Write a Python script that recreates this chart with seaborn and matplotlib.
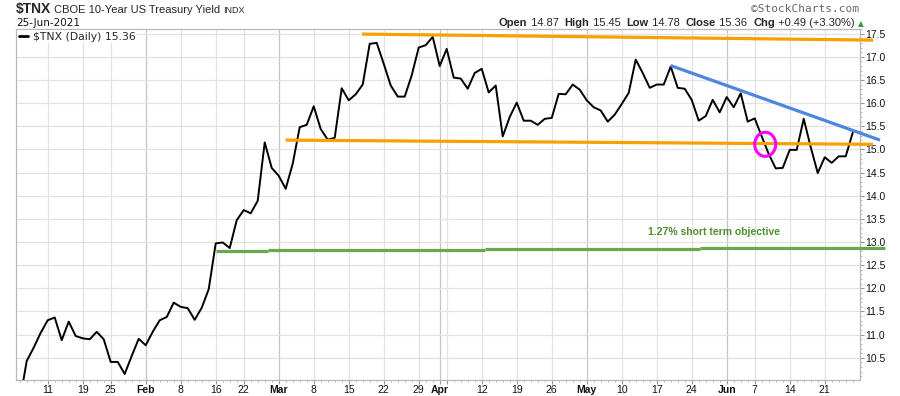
import numpy as np
import pandas as pd
import matplotlib
matplotlib.use("Agg")
import matplotlib.pyplot as plt
import seaborn as sns
from matplotlib.patches import Ellipse

# ---------------- data ----------------
holidays = ["2021-01-18", "2021-02-15", "2021-04-02", "2021-05-31"]
dates = pd.bdate_range("2021-01-04", "2021-06-25", freq="C", holidays=holidays)

tnx = [9.17, 9.55,
       10.43, 10.72, 11.04, 11.31, 11.37, 10.88, 11.28, 10.97,
       10.92, 10.90, 11.06, 10.90, 10.41, 10.41, 10.15, 10.54, 10.91, 10.77,
       11.06, 11.31, 11.38, 11.69, 11.60, 11.57, 11.32, 11.58, 11.98, 12.97,
       12.99, 12.87, 13.47, 13.69, 13.62, 13.89, 15.15, 14.60, 14.43, 14.15,
       14.69, 15.48, 15.53, 15.93, 15.44, 15.21, 15.25, 16.32, 16.06, 16.19,
       16.40, 17.28, 17.30, 16.85, 16.38, 16.14, 16.14, 16.60, 17.20, 17.25,
       17.43, 16.80, 17.17, 16.55, 16.53, 16.31, 16.65, 16.74, 16.23, 16.38,
       15.28, 15.70, 16.01, 15.62, 15.62, 15.53, 15.66, 15.68, 16.20, 16.19,
       16.40, 16.29, 16.06, 15.91, 15.84, 15.60, 15.75, 15.98, 16.22, 16.94,
       16.65, 16.33, 16.40, 16.40, 16.79, 16.33, 16.31, 16.07, 15.62, 15.72,
       16.07, 15.80, 16.13, 15.91, 16.21, 15.60, 15.67, 15.28, 14.90, 14.59,
       14.60, 14.99, 14.99, 15.66, 15.05, 14.49, 14.83, 14.71, 14.85, 14.85,
       15.36]

tick_dates = ["2021-01-11", "2021-01-19", "2021-01-25", "2021-02-01", "2021-02-08",
              "2021-02-16", "2021-02-22", "2021-03-01", "2021-03-08", "2021-03-15",
              "2021-03-22", "2021-03-29", "2021-04-01", "2021-04-05", "2021-04-12",
              "2021-04-19", "2021-04-26", "2021-05-03", "2021-05-10", "2021-05-17",
              "2021-05-24", "2021-06-01", "2021-06-07", "2021-06-14", "2021-06-21"]
tick_labels = ["11", "19", "25", "Feb", "8", "16", "22", "Mar", "8", "15", "22", "29",
               "Apr", "", "12", "19", "26", "May", "10", "17", "24", "Jun", "7", "14", "21"]
month_labels = {"Feb", "Mar", "Apr", "May", "Jun"}

yticks = [10.5, 11.0, 11.5, 12.0, 12.5, 13.0, 13.5, 14.0, 14.5, 15.0, 15.5, 16.0, 16.5, 17.0, 17.5]

# annotation lines: (start index, start value, end index, end value)
upper_orange = (49.9, 17.49, 122.9, 17.36)
lower_orange = (39.0, 15.20, 122.9, 15.11)
blue_trend = (94.0, 16.81, 123.9, 15.20)
green_segments = [(29.0, 36.5, 12.80), (36.5, 67.5, 12.82), (67.5, 98.2, 12.84), (98.2, 124.6, 12.86)]
circle_center = (107.5, 15.11)
objective_label_pos = (100.2, 13.21)

# ---------------- figure ----------------
sns.set_style("white")
plt.rcParams["font.family"] = ["Liberation Sans", "DejaVu Sans"]

W, H = 900, 396
fig = plt.figure(figsize=(W / 100, H / 100), dpi=100)
ax = fig.add_axes([16 / W, 1 - 380 / H, 844 / W, 351 / H])

idx = np.arange(len(dates))
df = pd.DataFrame({"i": idx, "v": tnx})

pos = {d: k for k, d in enumerate(dates.strftime("%Y-%m-%d"))}
tick_pos = [pos[d] for d in tick_dates]

# grid
for p, lab in zip(tick_pos, tick_labels):
    c = "#c4c4c4" if lab in month_labels else "#e2e2e2"
    ax.axvline(p, color=c, lw=0.9, zorder=0)
for yv in yticks:
    ax.axhline(yv, color="#e2e2e2", lw=0.9, zorder=0)

sns.lineplot(data=df, x="i", y="v", ax=ax, color="black", lw=1.4, zorder=3,
             label="$TNX (Daily) 15.36")

orange = "#f7a000"
for (x0, y0, x1, y1) in (upper_orange, lower_orange):
    ax.plot([x0, x1], [y0, y1], color=orange, lw=2.3, clip_on=False, zorder=4,
            solid_capstyle="butt")
x0, y0, x1, y1 = blue_trend
ax.plot([x0, x1], [y0, y1], color="#4d86e0", lw=2.3, clip_on=False, zorder=4,
        solid_capstyle="butt")
for (x0, x1, yv) in green_segments:
    ax.plot([x0, x1], [yv, yv], color="#6aa84f", lw=2.3, clip_on=False, zorder=4,
            solid_capstyle="butt")
ax.add_patch(Ellipse(circle_center, width=3.0, height=0.52, fill=False,
                     edgecolor="#ff00ff", lw=2.2, zorder=5))
ax.text(*objective_label_pos, "1.27% short term objective", color="#4f8f2f", fontsize=7.5,
        fontweight="bold", ha="center", va="center", zorder=5)

ax.set_xlim(0.47, 121.04)
ax.set_ylim(10.02, 17.6)
ax.set_xlabel("")
ax.set_ylabel("")

# axes styling
for s in ax.spines.values():
    s.set_color("#b8b8b8")
    s.set_linewidth(0.9)
ax.yaxis.tick_right()
ax.set_yticks(yticks)
ax.set_yticklabels([f"{v:.1f}" for v in yticks])
ax.set_yticks(np.arange(10.1, 17.6, 0.1), minor=True)
ax.set_xticks(tick_pos)
ax.set_xticklabels(tick_labels)
ax.set_xticks(idx[idx >= 1], minor=True)
for lab in ax.get_xticklabels():
    if lab.get_text() in month_labels:
        lab.set_fontweight("bold")
ax.tick_params(axis="both", which="major", labelsize=7.5, colors="#999999",
               labelcolor="#111111", length=3, width=0.8)
ax.tick_params(axis="x", which="major", pad=0.5)
ax.tick_params(axis="y", which="major", pad=1)
ax.tick_params(axis="both", which="minor", colors="#aaaaaa", length=1.5, width=0.6)
ax.tick_params(axis="x", which="both", bottom=True, top=False)
ax.tick_params(axis="y", which="both", right=True, left=False)

leg = ax.legend(loc="upper left", bbox_to_anchor=(0.0, 1.0),
                handlelength=0.9, handletextpad=0.4, borderpad=0.15, borderaxespad=0.1,
                frameon=True, fancybox=False, framealpha=1.0,
                prop={"family": "DejaVu Sans", "size": 7.8})
leg.get_frame().set_edgecolor("none")
leg.get_frame().set_facecolor("white")
for line in leg.get_lines():
    line.set_linewidth(2.0)

# ---------------- header ----------------
renderer = fig.canvas.get_renderer()


def seq(x, y, pieces):
    for s, kw in pieces:
        t = fig.text(x / W, 1 - y / H, s, ha="left", va="baseline", **kw)
        x += t.get_window_extent(renderer).width
    return x


seq(16, 12.7, [("$TNX", dict(fontsize=10, fontweight="bold")),
               (" ", dict(fontsize=8)),
               ("CBOE 10-Year US Treasury Yield ", dict(fontsize=8)),
               ("INDX", dict(fontsize=6.5))])
fig.text(16 / W, 1 - 26.5 / H, "25-Jun-2021", fontsize=7.5, ha="left", va="baseline",
         family="DejaVu Sans", color="#111111")
fig.text(859 / W, 1 - 12 / H, "\u00a9StockCharts.com", fontsize=8, ha="right", va="baseline",
         family="DejaVu Sans Mono", color="#666666")

bold = dict(fontsize=8, fontweight="bold")
reg = dict(fontsize=8)
x_end = seq(499, 26.3, [("Open", bold), (" 14.87  ", reg), ("High", bold), (" 15.45  ", reg),
                        ("Low", bold), (" 14.78  ", reg), ("Close", bold), (" 15.36  ", reg),
                        ("Chg", bold), (" +0.49 (+3.30%) ", reg)])
fig.text(x_end / W, 1 - 26 / H, "\u25b2", fontsize=5.5, color="#3a9a3a", ha="left",
         va="baseline", family="DejaVu Sans")

fig.savefig("out.png", dpi=100)
